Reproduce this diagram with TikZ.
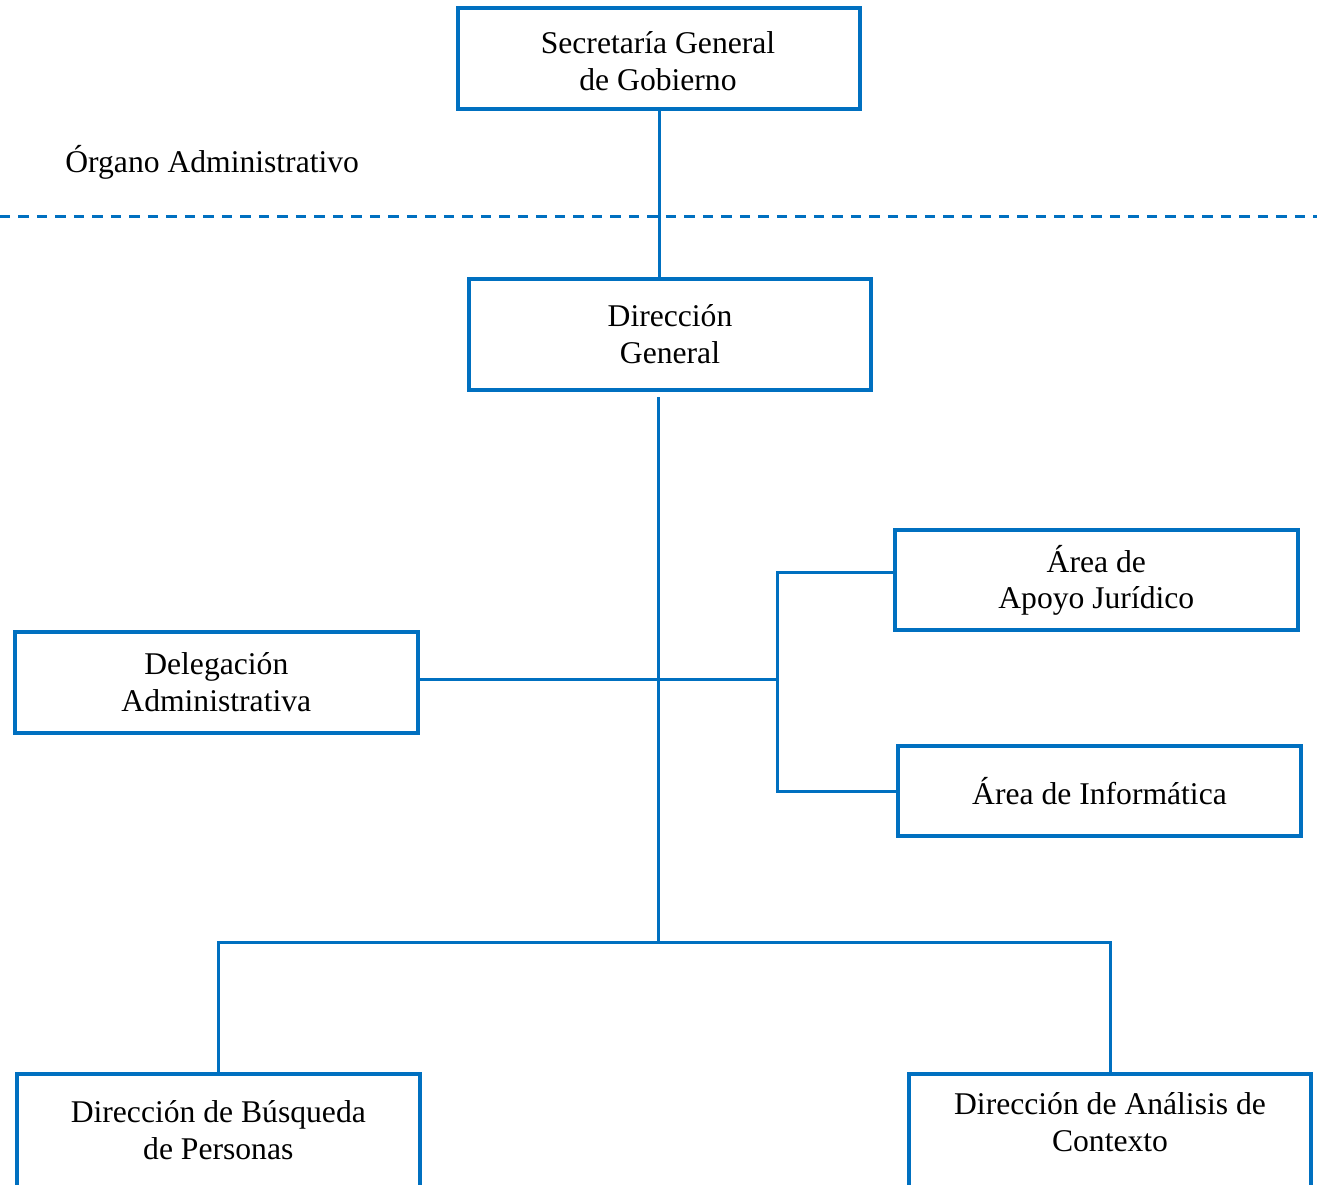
\documentclass[tikz,border=0pt]{standalone}
\usepackage{fontspec}
\setmainfont{Liberation Serif}
\usetikzlibrary{positioning,calc}
\definecolor{orgblue}{RGB}{0,112,192}

\begin{document}
\begin{tikzpicture}[x=0.02cm, y=-0.02cm,
		unit/.style={draw=orgblue, line width=0.08cm, minimum width=8.06cm, align=center, inner sep=0pt, font=\fontsize{18}{21}\selectfont},
		txt/.style={align=center, inner sep=0pt, font=\fontsize{18}{21}\selectfont},
		conn/.style={draw=orgblue, line width=0.06cm},
	]
		\useasboundingbox (0,0) rectangle (1317,1184);
		\clip (0,0) rectangle (1317,1184);
		% upper level
		\node[unit, minimum height=2.04cm] (sgg) at (659,58.5) {};
		\node[txt] (sggtxt) at (658,61.5) {Secretaría General\\de Gobierno};
		\node[txt, anchor=west] (organo) at (65,162) {Órgano Administrativo};
		\draw[orgblue, line width=0.06cm, dash pattern=on 0.21cm off 0.16cm] (0,216) -- (1317,216);
		\node[unit, minimum height=2.22cm] (dg) at (670,334.5) {Dirección\\General};
		% middle level
		\node[unit, minimum height=2.01cm] (del) at (216.3,682.3) {Delegación\\Administrativa};
		\node[unit, minimum height=2.0cm] (apo) at (1096.3,580.3) {Área de\\Apoyo Jurídico};
		\node[unit, minimum height=1.8cm] (inf) at (1099.5,791) {Área de Informática};
		% lower level (cut off at the bottom)
		\node[unit, minimum height=2.28cm] (dbp) at (218.3,1130.5) {Dirección de Búsqueda\\de Personas};
		\node[unit, minimum height=2.28cm] (dac) at (1110,1130.5) {};
		\node[txt] (dactxt) at (1110,1122.5) {Dirección de Análisis de\\Contexto};
		% connectors
		\coordinate (trunk) at (658,397);
		\coordinate (hub) at (658,942);
		\coordinate (brk) at (777,679);
		\draw[conn] (sgg.south) -- (sgg.south |- dg.north);
		\draw[conn] (trunk) -- (hub);
		\draw[conn] (del.east |- brk) -- (brk);
		\draw[conn] ([yshift=0.16cm]apo.west) -| (brk) |- (inf.west);
		\draw[conn] (dbp.north) |- (hub) -| (dac.north);
\end{tikzpicture}
\end{document}
